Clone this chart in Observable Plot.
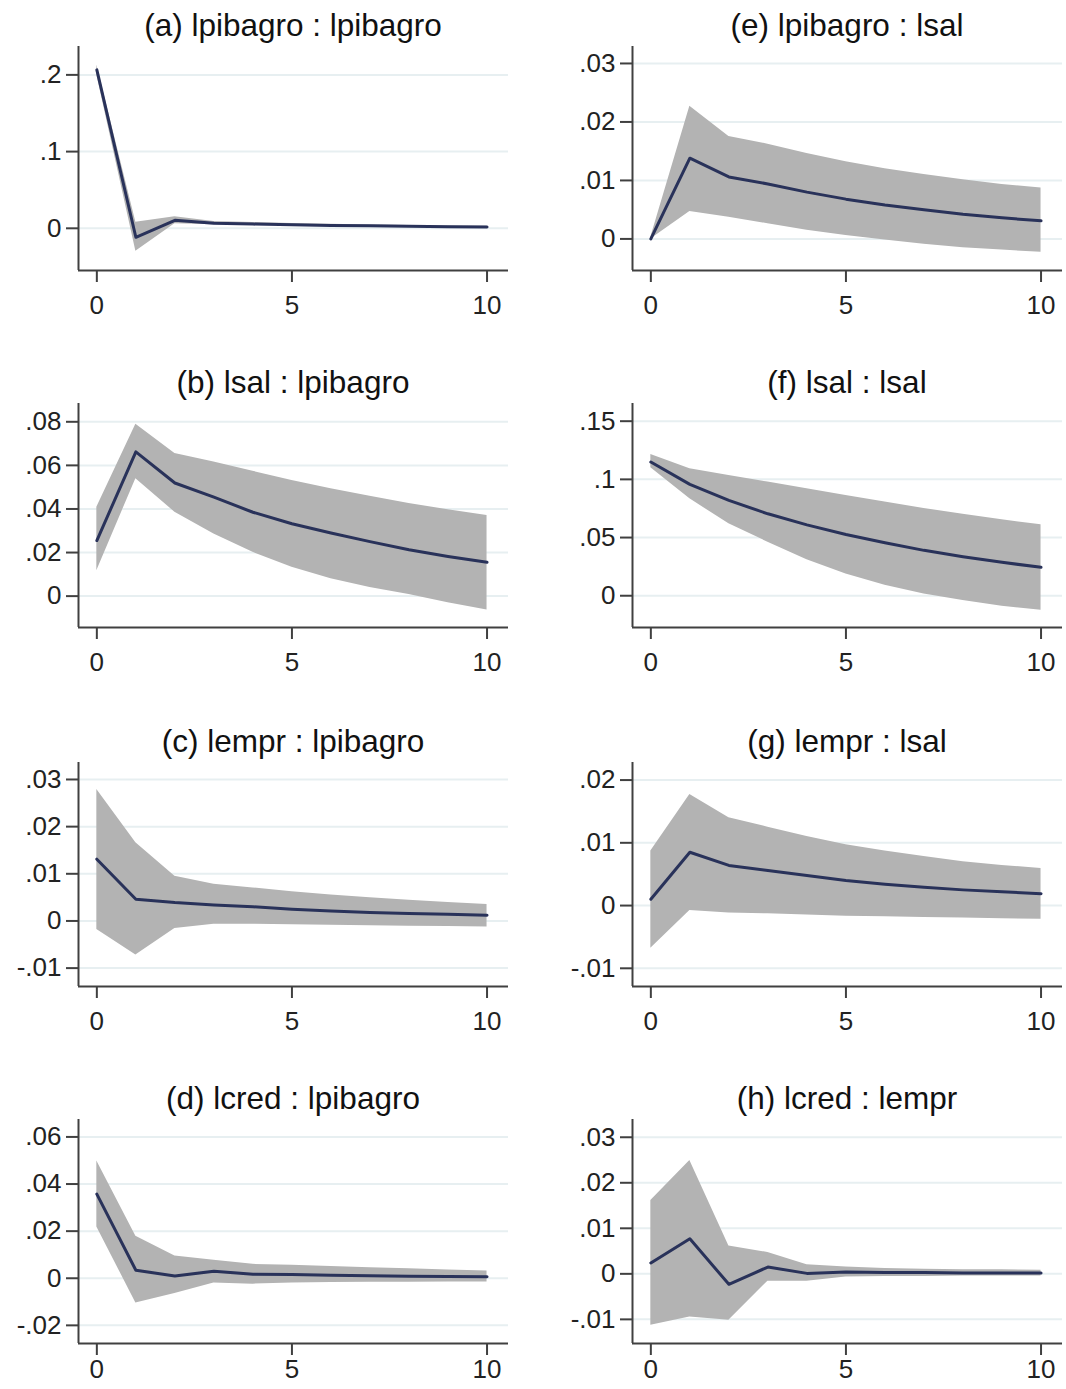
<!DOCTYPE html>
<html>
<head>
<meta charset="utf-8">
<script src="https://cdn.jsdelivr.net/npm/d3@7"></script>
<script src="https://cdn.jsdelivr.net/npm/@observablehq/plot@0.6"></script>
<style>
html, body { margin: 0; padding: 0; background: #fff; overflow: hidden; }
#wrap { position: relative; width: 1066px; height: 1389px; overflow: hidden; background: #fff; }
.title { position: absolute; width: 430px; text-align: center; font-family: "Liberation Sans", Arial, sans-serif; font-size: 31.5px; color: #111; white-space: nowrap; line-height: 36px; height: 36px; }
.panel { position: absolute; }
</style>
</head>
<body>
<div id="wrap"></div>
<script>
// ---- data ----
const steps = [0, 1, 2, 3, 4, 5, 6, 7, 8, 9, 10];
const xTicks = [0, 5, 10];

const titles = ["(a) lpibagro : lpibagro", "(e) lpibagro : lsal",
                "(b) lsal : lpibagro", "(f) lsal : lsal",
                "(c) lempr : lpibagro", "(g) lempr : lsal",
                "(d) lcred : lpibagro", "(h) lcred : lempr"];

// (a) lpibagro : lpibagro
const a_irf = [0.2065, -0.0117, 0.0104, 0.0065, 0.0055, 0.0045, 0.0038, 0.0032, 0.0026, 0.0021, 0.0017];
const a_lo  = [0.2000, -0.0300, 0.0060, 0.0045, 0.0040, 0.0033, 0.0028, 0.0023, 0.0018, 0.0014, 0.0010];
const a_hi  = [0.2130, 0.0080, 0.0150, 0.0090, 0.0075, 0.0062, 0.0052, 0.0044, 0.0037, 0.0031, 0.0026];
const a_ticks = [0, 0.1, 0.2];

// (e) lpibagro : lsal
const e_irf = [0.0000, 0.0138, 0.0106, 0.0094, 0.0080, 0.0068, 0.0058, 0.0050, 0.0042, 0.0036, 0.0031];
const e_lo  = [0.0000, 0.0047, 0.0037, 0.0026, 0.0015, 0.0006, -0.0002, -0.0009, -0.0015, -0.0019, -0.0023];
const e_hi  = [0.0003, 0.0227, 0.0175, 0.0162, 0.0146, 0.0132, 0.0120, 0.0110, 0.0101, 0.0093, 0.0087];
const e_ticks = [0, 0.01, 0.02, 0.03];

// (b) lsal : lpibagro
const b_irf = [0.0255, 0.0662, 0.0519, 0.0454, 0.0385, 0.0332, 0.0290, 0.0250, 0.0213, 0.0182, 0.0155];
const b_lo  = [0.0117, 0.0539, 0.0385, 0.0285, 0.0201, 0.0132, 0.0080, 0.0040, 0.0008, -0.0030, -0.0064];
const b_hi  = [0.0408, 0.0789, 0.0654, 0.0615, 0.0573, 0.0531, 0.0493, 0.0458, 0.0425, 0.0396, 0.0370];
const b_ticks = [0, 0.02, 0.04, 0.06, 0.08];

// (f) lsal : lsal
const f_irf = [0.1149, 0.0957, 0.0819, 0.0704, 0.0609, 0.0526, 0.0455, 0.0390, 0.0335, 0.0287, 0.0244];
const f_lo  = [0.1100, 0.0833, 0.0618, 0.0460, 0.0310, 0.0187, 0.0090, 0.0015, -0.0040, -0.0090, -0.0124];
const f_hi  = [0.1213, 0.1092, 0.1034, 0.0977, 0.0920, 0.0862, 0.0805, 0.0750, 0.0700, 0.0653, 0.0609];
const f_ticks = [0, 0.05, 0.1, 0.15];

// (c) lempr : lpibagro
const c_irf = [0.0131, 0.0046, 0.0039, 0.0034, 0.0030, 0.0025, 0.0021, 0.0018, 0.0016, 0.0014, 0.0012];
const c_lo  = [-0.0018, -0.0072, -0.0016, -0.0007, -0.0007, -0.0008, -0.0009, -0.0010, -0.0011, -0.0012, -0.0013];
const c_hi  = [0.0279, 0.0166, 0.0095, 0.0078, 0.0070, 0.0062, 0.0055, 0.0049, 0.0044, 0.0039, 0.0035];
const c_ticks = [-0.01, 0, 0.01, 0.02, 0.03];

// (g) lempr : lsal
const g_irf = [0.0010, 0.0085, 0.0064, 0.0056, 0.0048, 0.0040, 0.0034, 0.0029, 0.0025, 0.0022, 0.0019];
const g_lo  = [-0.0068, -0.0008, -0.0012, -0.0013, -0.0015, -0.0017, -0.0018, -0.0019, -0.0020, -0.0021, -0.0022];
const g_hi  = [0.0087, 0.0177, 0.0140, 0.0125, 0.0110, 0.0097, 0.0087, 0.0078, 0.0070, 0.0064, 0.0059];
const g_ticks = [-0.01, 0, 0.01, 0.02];

// (d) lcred : lpibagro
const d_irf = [0.0357, 0.0034, 0.0010, 0.0030, 0.0017, 0.0016, 0.0013, 0.0011, 0.0009, 0.0007, 0.0006];
const d_lo  = [0.0218, -0.0105, -0.0065, -0.0020, -0.0025, -0.0020, -0.0018, -0.0017, -0.0017, -0.0016, -0.0016];
const d_hi  = [0.0498, 0.0178, 0.0095, 0.0076, 0.0059, 0.0055, 0.0050, 0.0045, 0.0040, 0.0035, 0.0031];
const d_ticks = [-0.02, 0, 0.02, 0.04, 0.06];

// (h) lcred : lempr
const h_irf = [0.0024, 0.0077, -0.0023, 0.0015, 0.0001, 0.0004, 0.0003, 0.0003, 0.0002, 0.0002, 0.0002];
const h_lo  = [-0.0113, -0.0095, -0.0102, -0.0016, -0.0016, -0.0007, -0.0006, -0.0006, -0.0005, -0.0005, -0.0005];
const h_hi  = [0.0161, 0.0249, 0.0061, 0.0047, 0.0020, 0.0015, 0.0012, 0.0010, 0.0009, 0.0009, 0.0008];
const h_ticks = [-0.01, 0, 0.01, 0.02, 0.03];

// y-axis extents
const yDomains = {
  a: [-0.055, 0.237], e: [-0.0054, 0.0329],
  b: [-0.0144, 0.0884], f: [-0.0273, 0.1652],
  c: [-0.0139, 0.0336], g: [-0.0129, 0.0228],
  d: [-0.0277, 0.0674], h: [-0.0153, 0.0339]
};
const xDomain = [-0.47, 10.55];

// ---- layout ----
const panels = [
  {k: "a", irf: a_irf, lo: a_lo, hi: a_hi, ticks: a_ticks},
  {k: "e", irf: e_irf, lo: e_lo, hi: e_hi, ticks: e_ticks},
  {k: "b", irf: b_irf, lo: b_lo, hi: b_hi, ticks: b_ticks},
  {k: "f", irf: f_irf, lo: f_lo, hi: f_hi, ticks: f_ticks},
  {k: "c", irf: c_irf, lo: c_lo, hi: c_hi, ticks: c_ticks},
  {k: "g", irf: g_irf, lo: g_lo, hi: g_hi, ticks: g_ticks},
  {k: "d", irf: d_irf, lo: d_lo, hi: d_hi, ticks: d_ticks},
  {k: "h", irf: h_irf, lo: h_lo, hi: h_hi, ticks: h_ticks}
];
const rowTops = [46, 403, 762, 1119];
const cols = [{left: 0, ml: 78, mr: 25}, {left: 533, ml: 99, mr: 4}];
const plotH = 224, mt = 4, mb = 42;
const font = '"Liberation Sans", Arial, sans-serif';
const fmt = d => d === 0 ? "0" : String(+d.toFixed(4)).replace("0.", ".");

const wrap = document.getElementById("wrap");

panels.forEach((p, i) => {
  const row = Math.floor(i / 2), col = cols[i % 2];
  const top = rowTops[row];
  const last = row === rowTops.length - 1;
  const data = steps.map((s, j) => ({step: s, irf: p.irf[j], lo: p.lo[j], hi: p.hi[j]}));
  const yd = yDomains[p.k];

  const chart = Plot.plot({
    width: 533,
    height: mt + plotH + mb,
    marginLeft: col.ml, marginRight: col.mr, marginTop: mt, marginBottom: mb,
    style: {fontFamily: font, fontSize: "26px", color: "#222", background: "transparent", overflow: "visible"},
    x: {domain: xDomain, label: null},
    y: {domain: yd, label: null},
    marks: [
      Plot.gridY(p.ticks, {stroke: "#e7eff1", strokeOpacity: 1, strokeWidth: 2}),
      Plot.areaY(data, {x: "step", y1: "lo", y2: "hi", fill: "#b3b3b3", curve: "linear"}),
      Plot.lineY(data, {x: "step", y: "irf", stroke: "#29325a", strokeWidth: 3, strokeLinejoin: "round"}),
      Plot.ruleX([xDomain[0]], {stroke: "#404040", strokeWidth: 2}),
      Plot.ruleY([yd[0]], {stroke: "#404040", strokeWidth: 2}),
      Plot.axisX(xTicks, {tickSize: 12, tickPadding: last ? 4 : 13, stroke: "#404040", strokeWidth: 2, tickFormat: d => String(d), label: null}),
      Plot.axisY(p.ticks, {tickSize: 12, tickPadding: 5, stroke: "#404040", strokeWidth: 2, tickFormat: fmt, label: null})
    ]
  });
  chart.classList.add("panel");
  chart.style.left = col.left + "px";
  chart.style.top = (top - mt) + "px";
  wrap.appendChild(chart);

  const t = document.createElement("div");
  t.className = "title";
  t.textContent = titles[i];
  t.style.left = (col.left + col.ml) + "px";
  t.style.top = (top - 39) + "px";
  wrap.appendChild(t);
});
</script>
</body>
</html>
